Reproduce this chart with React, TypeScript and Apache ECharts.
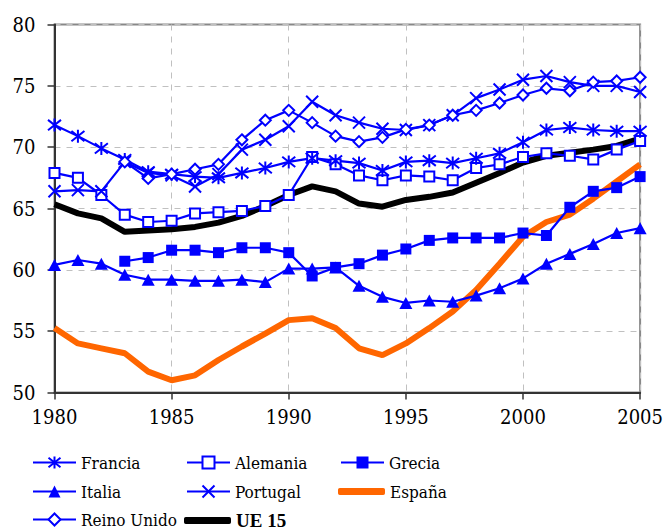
import React, { useEffect, useRef } from "react";
import * as echarts from "echarts";

const years = [1980, 1981, 1982, 1983, 1984, 1985, 1986, 1987, 1988, 1989, 1990, 1991, 1992, 1993, 1994, 1995, 1996, 1997, 1998, 1999, 2000, 2001, 2002, 2003, 2004, 2005];

const francia = [71.8, 70.9, 69.9, 69.0, 68.0, 67.8, 67.6, 67.5, 67.9, 68.3, 68.8, 69.1, 68.9, 68.7, 68.1, 68.8, 68.9, 68.7, 69.1, 69.5, 70.4, 71.4, 71.6, 71.4, 71.3, 71.3];
const alemania = [67.9, 67.5, 66.1, 64.5, 63.9, 64.0, 64.6, 64.7, 64.8, 65.2, 66.1, 69.2, 68.6, 67.7, 67.3, 67.7, 67.6, 67.3, 68.3, 68.6, 69.2, 69.5, 69.3, 69.0, 69.8, 70.5];
const grecia = [null, null, null, 60.7, 61.0, 61.6, 61.6, 61.4, 61.8, 61.8, 61.4, 59.5, 60.2, 60.5, 61.2, 61.7, 62.4, 62.6, 62.6, 62.6, 63.0, 62.8, 65.1, 66.4, 66.7, 67.6];
const italia = [60.4, 60.8, 60.5, 59.6, 59.2, 59.2, 59.1, 59.1, 59.2, 59.0, 60.1, 60.1, 60.2, 58.7, 57.8, 57.3, 57.5, 57.4, 57.9, 58.5, 59.3, 60.5, 61.3, 62.1, 63.0, 63.4];
const portugal = [66.4, 66.5, 66.4, 68.8, 67.9, 67.7, 66.8, 67.8, 69.8, 70.6, 71.7, 73.7, 72.6, 72.0, 71.5, 71.4, 71.8, 72.6, 74.0, 74.7, 75.5, 75.8, 75.3, 75.0, 75.0, 74.5];
const espana = [55.25, 54.0, 53.6, 53.2, 51.7, 51.0, 51.4, 52.65, 53.75, 54.8, 55.9, 56.05, 55.25, 53.6, 53.05, 54.0, 55.25, 56.6, 58.35, 60.5, 62.7, 63.9, 64.5, 65.8, 67.2, 68.6];
const reinoUnido = [null, null, null, 68.8, 67.45, 67.8, 68.2, 68.6, 70.6, 72.2, 73.0, 72.0, 70.9, 70.45, 70.8, 71.45, 71.8, 72.6, 73.0, 73.6, 74.25, 74.8, 74.6, 75.3, 75.4, 75.7];
const ue15 = [65.35, 64.6, 64.2, 63.1, 63.2, 63.3, 63.5, 63.85, 64.4, 65.2, 66.1, 66.8, 66.4, 65.4, 65.15, 65.7, 65.95, 66.3, 67.1, 67.9, 68.75, 69.3, 69.55, 69.8, 70.1, 70.7];

const yTicks = [50, 55, 60, 65, 70, 75, 80];
const xTicks = [1980, 1985, 1990, 1995, 2000, 2005];

const BLUE = "#0000FF";
const FONT = "DejaVu Serif Condensed, DejaVu Serif";
const BOLD_FONT = "Liberation Serif";

const ASTERISK = "path://M1,1L9,9M9,1L1,9M5,0L5,10";
const CROSS = "path://M0,0L10,10M10,0L0,10";

const pairs = (vals: (number | null)[]) => years.map((y, i) => [y, vals[i]]);

export default function App() {
  const ref = useRef<HTMLDivElement>(null);
  useEffect(() => {
    if (!ref.current) return;
    const chart = echarts.init(ref.current, null, { renderer: "svg" });

    const blueSeries = (name: string, vals: (number | null)[], symbol: string, size: any, fill: string, bw: number) => ({
      name,
      type: "line",
      data: pairs(vals),
      symbol,
      symbolSize: size,
      showSymbol: true,
      connectNulls: false,
      lineStyle: { color: BLUE, width: 2.2 },
      itemStyle: { color: fill, borderColor: BLUE, borderWidth: bw },
      z: 3,
    });

    const legendItem = (name: string, left: number, top: number, bold = false, thick = false) => ({
      show: true,
      data: thick ? [{ name, icon: "roundRect" }] : [name],
      left,
      top,
      padding: 0,
      itemWidth: thick ? 47 : 43,
      itemHeight: thick ? 7 : 15,
      itemGap: 0,
      selectedMode: false,
      textStyle: {
        fontFamily: bold ? BOLD_FONT : FONT,
        fontSize: bold ? 19 : 17,
        color: "#000",
        fontWeight: bold ? "bold" : "normal",
      },
    });

    const r1 = 454, r2 = 483, r3 = 511;
    chart.setOption({
      animation: false,
      backgroundColor: "#fff",
      textStyle: { fontFamily: FONT },
      grid: {
        left: 54.5,
        top: 24.5,
        right: 25,
        bottom: 138.5,
        show: true,
        borderColor: "#888",
        borderWidth: 2,
        backgroundColor: "transparent",
      },
      xAxis: {
        type: "value",
        min: 1980,
        max: 2005,
        interval: 5,
        axisLine: { show: true, onZero: false, lineStyle: { color: "#333", width: 2 } },
        axisTick: { show: true, length: 7, lineStyle: { color: "#333", width: 1.5 } },
        axisLabel: {
          margin: 14,
          fontFamily: FONT,
          fontSize: 20,
          color: "#000",
          formatter: (v: number) => (xTicks.includes(v) ? String(v) : ""),
        },
        splitLine: { show: true, lineStyle: { color: "#c0c0c0", type: [6, 6], width: 1 } },
      },
      yAxis: {
        type: "value",
        min: 50,
        max: 80,
        interval: 5,
        axisLine: { show: true, onZero: false, lineStyle: { color: "#333", width: 2 } },
        axisTick: { show: true, length: 7, lineStyle: { color: "#333", width: 1.5 } },
        axisLabel: {
          margin: 19,
          fontFamily: FONT,
          fontSize: 20,
          color: "#000",
          formatter: (v: number) => (yTicks.includes(v) ? String(v) : ""),
        },
        splitLine: { show: true, lineStyle: { color: "#c0c0c0", type: [6, 6], width: 1 } },
      },
      legend: [
        legendItem("Francia", 32, r1),
        legendItem("Alemania", 186, r1),
        legendItem("Grecia", 340, r1),
        legendItem("Italia", 32, r2),
        legendItem("Portugal", 186, r2),
        legendItem("España", 338, r2, false, true),
        legendItem("Reino Unido", 32, r3),
        legendItem("UE 15", 184, r3, true, true),
      ],
      series: [
        {
          name: "UE 15",
          type: "line",
          data: pairs(ue15),
          showSymbol: false,
          symbol: "none",
          lineStyle: { color: "#000", width: 6 },
          itemStyle: { color: "#000" },
          z: 1,
        },
        {
          name: "España",
          type: "line",
          data: pairs(espana),
          showSymbol: false,
          symbol: "none",
          lineStyle: { color: "#FF6600", width: 6 },
          itemStyle: { color: "#FF6600" },
          z: 2,
        },
        blueSeries("Italia", italia, "triangle", [13, 12], BLUE, 0),
        blueSeries("Grecia", grecia, "rect", 11, BLUE, 0),
        blueSeries("Alemania", alemania, "rect", 10, "#fff", 2),
        blueSeries("Francia", francia, ASTERISK, 13, BLUE, 2),
        blueSeries("Portugal", portugal, CROSS, 12, BLUE, 2),
        blueSeries("Reino Unido", reinoUnido, "diamond", 11, "#fff", 2),
      ],
    });
    return () => chart.dispose();
  }, []);
  return (
    <div
      ref={ref}
      style={{ position: "absolute", left: 0, top: 0, width: 666, height: 531, background: "#fff" }}
    />
  );
}
